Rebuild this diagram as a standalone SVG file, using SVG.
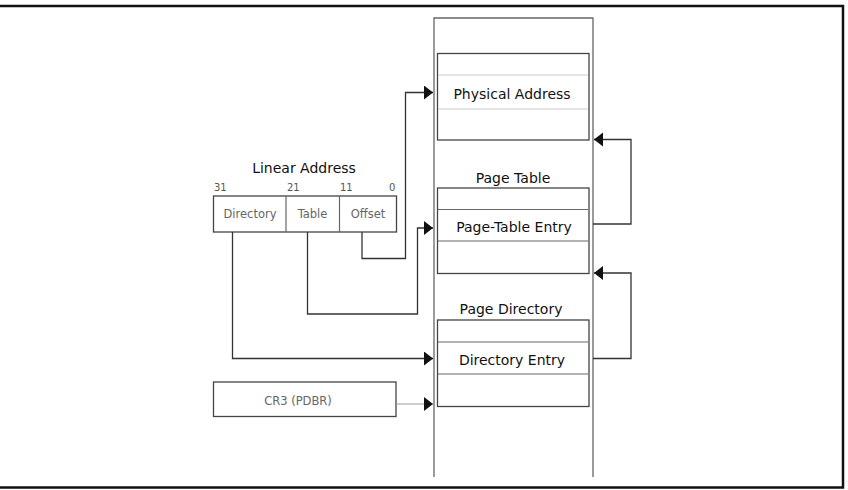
<svg xmlns="http://www.w3.org/2000/svg" width="848" height="490" viewBox="0 0 848 490">
  <defs>
    <marker id="head" markerUnits="userSpaceOnUse" markerWidth="10" markerHeight="15" refX="9" refY="7" orient="auto">
      <path d="M0,0 L9,7 L0,14 Z" fill="#111"/>
    </marker>
    <style>
      .frame { fill: none; stroke: #111; stroke-width: 2.5; }
      .box { fill: #fff; stroke: #444; stroke-width: 1.3; }
      .col { fill: none; stroke: #666; stroke-width: 1.3; }
      .sep { stroke: #666; stroke-width: 1.2; }
      .faint { stroke: #ccc; stroke-width: 1; }
      .wire { fill: none; stroke: #333; stroke-width: 1.3; }
      .wire-light { fill: none; stroke: #999; stroke-width: 1.2; }
      .title { font-family: "DejaVu Sans", Verdana, sans-serif; font-size: 14px; fill: #111; text-anchor: middle; }
      .field { font-family: "DejaVu Sans", Verdana, sans-serif; font-size: 11.5px; fill: #666; text-anchor: middle; }
      .bit { font-family: "DejaVu Sans", Verdana, sans-serif; font-size: 10px; fill: #555; }
    </style>
  </defs>

  <!-- outer frame -->
  <path class="frame" d="M-2,6 H843 V487.5 H-2"/>

  <!-- memory column -->
  <g id="memory">
    <path class="col" d="M434,477 V18 H593 V477"/>
  </g>

  <!-- page frame holding the physical address -->
  <g id="page-frame">
    <rect class="box" x="437.5" y="53.5" width="151.5" height="86.5"/>
    <line class="faint" x1="438" y1="75" x2="588" y2="75"/>
    <line class="faint" x1="438" y1="109" x2="588" y2="109"/>
    <text class="title" x="512" y="99">Physical Address</text>
  </g>

  <!-- page table -->
  <g id="page-table">
    <text class="title" x="513" y="183">Page Table</text>
    <rect class="box" x="437.5" y="188" width="151.5" height="85.5"/>
    <line class="sep" x1="438" y1="209.5" x2="588" y2="209.5"/>
    <line class="sep" x1="438" y1="241" x2="588" y2="241"/>
    <text class="title" x="514" y="232">Page-Table Entry</text>
  </g>

  <!-- page directory -->
  <g id="page-directory">
    <text class="title" x="511" y="314">Page Directory</text>
    <rect class="box" x="437.5" y="320" width="151.5" height="86.5"/>
    <line class="sep" x1="438" y1="342" x2="588" y2="342"/>
    <line class="sep" x1="438" y1="374" x2="588" y2="374"/>
    <text class="title" x="512" y="365">Directory Entry</text>
  </g>

  <!-- linear address fields -->
  <g id="linear-address">
    <text class="title" x="304" y="173">Linear Address</text>
    <text class="bit" x="214" y="191">31</text>
    <text class="bit" x="287" y="191" fill="#222">21</text>
    <text class="bit" x="340" y="191">11</text>
    <text class="bit" x="389" y="191">0</text>
    <rect class="box" x="213.5" y="196" width="183" height="36"/>
    <line class="sep" x1="286" y1="196" x2="286" y2="232"/>
    <line class="sep" x1="339.5" y1="196" x2="339.5" y2="232"/>
    <text class="field" x="250" y="218">Directory</text>
    <text class="field" x="312.5" y="218">Table</text>
    <text class="field" x="368" y="218">Offset</text>
  </g>

  <!-- control register -->
  <g id="cr3">
    <rect class="box" x="213.5" y="382" width="182.5" height="34.5"/>
    <text class="field" x="298" y="405">CR3 (PDBR)</text>
  </g>

  <!-- connectors -->
  <g id="connectors">
    <path class="wire" d="M362,232 V258.5 H405.5 V92.5 H433" marker-end="url(#head)"/>
    <path class="wire" d="M307.5,232 V314 H417.5 V228 H433" marker-end="url(#head)"/>
    <path class="wire" d="M232.5,232 V358.5 H433" marker-end="url(#head)"/>
    <path class="wire-light" d="M396,404 H433" marker-end="url(#head)"/>
    <path class="wire" d="M593,224 H631 V139.5 H594" marker-end="url(#head)"/>
    <path class="wire" d="M593,358.5 H631 V273 H594" marker-end="url(#head)"/>
  </g>
</svg>
